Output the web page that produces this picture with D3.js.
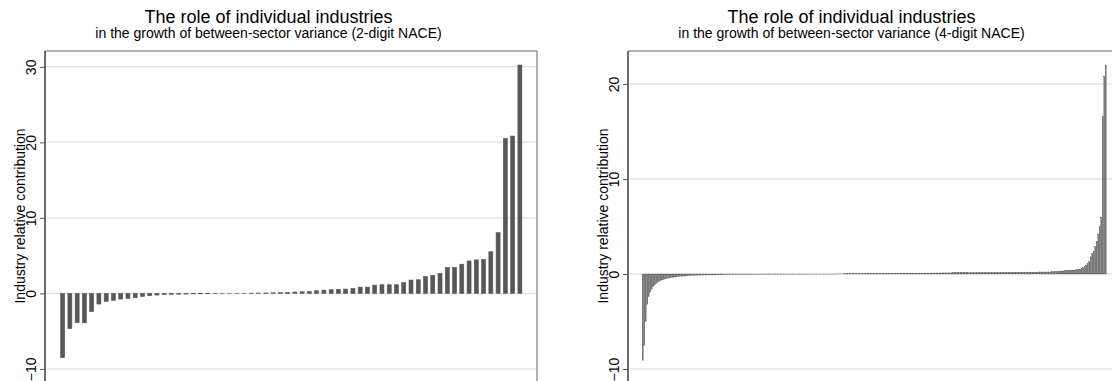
<!DOCTYPE html>
<html>
<head>
<meta charset="utf-8">
<script src="https://cdn.jsdelivr.net/npm/d3@7"></script>
<style>
    body { margin: 0; background: #fff; }
    text { font-family: "Liberation Sans", Arial, Helvetica, sans-serif; fill: #000; }
</style>
</head>
<body>
<div id="chart"></div>
<script>
var chartTitle = "The role of individual industries";
var subtitles = [
    "in the growth of between-sector variance (2-digit NACE)",
    "in the growth of between-sector variance (4-digit NACE)"
];
var yTitle = "Industry relative contribution";

var twoDigitTicks = [-10, 0, 10, 20, 30];
var fourDigitTicks = [-10, 0, 10, 20];

// 2-digit NACE industries, sorted by contribution
var twoDigitValues = [
    -8.5, -4.67, -3.87, -3.9, -2.42, -1.41, -1.06, -0.93, -0.75, -0.66,
    -0.57, -0.4, -0.3, -0.22, -0.15, -0.12, -0.1, -0.08, -0.06, -0.05,
    -0.04, -0.03, -0.02, -0.01, 0.01, 0.02, 0.03, 0.05, 0.06, 0.08,
    0.1, 0.13, 0.18, 0.22, 0.26, 0.35, 0.44, 0.49, 0.53, 0.57,
    0.66, 0.84, 0.84, 1.1, 1.15, 1.15, 1.15, 1.42, 1.77, 1.81,
    2.22, 2.4, 2.65, 3.44, 3.46, 3.87, 4.3, 4.44, 4.5, 5.52,
    8.04, 20.53, 20.84, 30.24
];

// 4-digit NACE industries, sorted by contribution
var fourDigitValues = [
    -9.1, -7.5, -5.0, -3.2, -2.4, -1.9, -1.6, -1.35, -1.15, -1.0,
    -0.88, -0.78, -0.7, -0.63, -0.57, -0.52, -0.48, -0.44, -0.41, -0.38,
    -0.35, -0.33, -0.31, -0.29, -0.27, -0.25, -0.23, -0.22, -0.21, -0.2,
    -0.19, -0.18, -0.17, -0.16, -0.15, -0.14, -0.13, -0.12, -0.12, -0.11,
    -0.11, -0.11, -0.11, -0.11, -0.1, -0.1, -0.1, -0.1, -0.1, -0.09,
    -0.09, -0.09, -0.09, -0.09, -0.08, -0.08, -0.08, -0.08, -0.08, -0.08,
    -0.07, -0.07, -0.07, -0.07, -0.07, -0.07, -0.06, -0.06, -0.06, -0.06,
    -0.06, -0.06, -0.06, -0.05, -0.05, -0.05, -0.05, -0.05, -0.05, -0.05,
    -0.05, -0.04, -0.04, -0.04, -0.04, -0.04, -0.04, -0.04, -0.04, -0.04,
    -0.03, -0.03, -0.03, -0.03, -0.03, -0.03, -0.03, -0.03, -0.03, -0.03,
    -0.02, -0.02, -0.02, -0.02, -0.02, -0.02, -0.02, -0.02, -0.02, -0.02,
    -0.02, -0.02, -0.01, -0.01, -0.01, -0.01, -0.01, -0.01, -0.01, -0.01,
    -0.01, -0.01, -0.01, -0.01, -0.01, -0.01, -0.01, -0.01, -0.01, -0.01,
    0.01, 0.01, 0.01, 0.01, 0.01, 0.02, 0.02, 0.02, 0.02, 0.02,
    0.03, 0.03, 0.03, 0.03, 0.03, 0.03, 0.04, 0.04, 0.04, 0.04,
    0.04, 0.04, 0.05, 0.05, 0.05, 0.05, 0.05, 0.05, 0.05, 0.06,
    0.06, 0.06, 0.06, 0.06, 0.06, 0.06, 0.07, 0.07, 0.07, 0.07,
    0.07, 0.07, 0.07, 0.08, 0.08, 0.08, 0.08, 0.08, 0.08, 0.08,
    0.09, 0.09, 0.09, 0.09, 0.09, 0.09, 0.1, 0.1, 0.1, 0.1,
    0.1, 0.1, 0.1, 0.11, 0.11, 0.11, 0.11, 0.11, 0.11, 0.11,
    0.12, 0.12, 0.12, 0.12, 0.12, 0.12, 0.12, 0.13, 0.13, 0.13,
    0.13, 0.13, 0.13, 0.14, 0.14, 0.14, 0.14, 0.14, 0.14, 0.14,
    0.15, 0.15, 0.15, 0.15, 0.15, 0.15, 0.15, 0.16, 0.16, 0.16,
    0.16, 0.16, 0.16, 0.17, 0.17, 0.17, 0.17, 0.17, 0.17, 0.18,
    0.18, 0.18, 0.18, 0.18, 0.18, 0.18, 0.18, 0.18, 0.19, 0.19,
    0.19, 0.19, 0.19, 0.19, 0.19, 0.19, 0.19, 0.2, 0.2, 0.2,
    0.2, 0.2, 0.2, 0.2, 0.2, 0.22, 0.22, 0.22, 0.22, 0.22,
    0.22, 0.22, 0.22,
    0.25, 0.26, 0.27, 0.28, 0.29, 0.3, 0.31, 0.32, 0.33, 0.34,
    0.35, 0.36, 0.37, 0.39, 0.4, 0.41, 0.43, 0.45, 0.47, 0.5,
    0.58, 0.66, 0.76, 0.95, 1.1, 1.3, 1.8, 2.2, 2.4, 2.9,
    3.4, 4.2, 5.0, 6.0, 16.6, 20.8, 22.0
];

var svg = d3.select("#chart")
    .append("svg")
    .attr("width", 1112)
    .attr("height", 381);

function drawPanel(conf) {
    var left = conf.offset + 45,
        right = conf.offset + 537,
        top = 51,
        bottom = 381;

    var g = svg.append("g");

    var y = d3.scaleLinear()
        .domain(conf.yDomain)
        .range([bottom, top]);

    var x = d3.scaleBand()
        .domain(d3.range(conf.values.length))
        .range([conf.offset + 59, conf.offset + 523.5])
        .paddingInner(conf.padding)
        .paddingOuter(conf.padding / 2);

    // titles
    g.append("text")
        .attr("x", conf.offset + 268.5)
        .attr("y", 23)
        .attr("text-anchor", "middle")
        .attr("font-size", "18px")
        .text(chartTitle);
    g.append("text")
        .attr("x", conf.offset + 268.5)
        .attr("y", 38)
        .attr("text-anchor", "middle")
        .attr("font-size", "14px")
        .text(conf.subtitle);

    // grid
    g.selectAll("line.grid")
        .data(conf.ticks)
        .enter().append("line")
        .attr("class", "grid")
        .attr("x1", left)
        .attr("x2", right)
        .attr("y1", d => y(d))
        .attr("y2", d => y(d))
        .attr("stroke", "#e3e3e3")
        .attr("stroke-width", 1.5);

    // bars
    g.selectAll("rect.bar")
        .data(conf.values)
        .enter().append("rect")
        .attr("class", "bar")
        .attr("x", (d, i) => x(i))
        .attr("width", x.bandwidth())
        .attr("y", d => Math.min(y(d), y(0)))
        .attr("height", d => Math.abs(y(d) - y(0)))
        .attr("fill", "#575757")
        .attr("stroke", "#575757")
        .attr("stroke-width", conf.strokeWidth);

    // frame
    g.append("path")
        .attr("d", "M" + left + "," + (bottom + 20) + "V" + top + "H" + right + "V" + (bottom + 20))
        .attr("fill", "none")
        .attr("stroke", "#666")
        .attr("stroke-width", 1);
    g.append("line")
        .attr("x1", left).attr("x2", left)
        .attr("y1", top).attr("y2", bottom + 20)
        .attr("stroke", "#555")
        .attr("stroke-width", 1.5);

    // y axis
    var yAxis = g.append("g")
        .attr("transform", "translate(" + left + ",0)")
        .call(d3.axisLeft(y).tickValues(conf.ticks).tickSize(5).tickFormat(d3.format("d")));
    yAxis.select(".domain").remove();
    yAxis.selectAll(".tick line").attr("stroke", "#555");
    yAxis.selectAll(".tick text")
        .attr("transform", "rotate(-90)")
        .attr("x", 0)
        .attr("y", -9)
        .attr("dy", 0)
        .attr("text-anchor", "middle")
        .attr("font-size", "14px")
        .attr("font-family", null);

    g.append("text")
        .attr("transform", "translate(" + (conf.offset + 25) + "," + ((top + bottom) / 2) + ") rotate(-90)")
        .attr("text-anchor", "middle")
        .attr("font-size", "14px")
        .text(yTitle);
}

drawPanel({
    offset: 0,
    values: twoDigitValues,
    ticks: twoDigitTicks,
    yDomain: [-11.6, 32.1],
    subtitle: subtitles[0],
    padding: 0.45,
    strokeWidth: 0.6
});

drawPanel({
    offset: 583,
    values: fourDigitValues,
    ticks: fourDigitTicks,
    yDomain: [-11.26, 23.47],
    subtitle: subtitles[1],
    padding: 0.4,
    strokeWidth: 0.3
});
</script>
</body>
</html>
